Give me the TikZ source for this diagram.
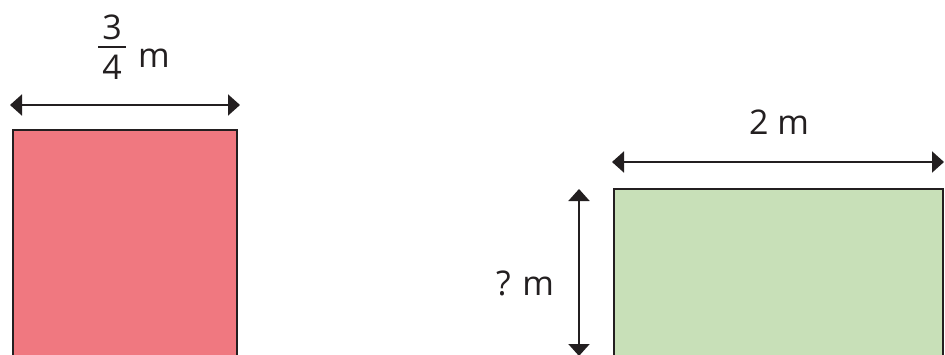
\documentclass[tikz,border=0pt]{standalone}
\usepackage{fontspec}
\setmainfont{Open Sans}
\usetikzlibrary{arrows.meta}
\definecolor{ink}{HTML}{231F20}
\definecolor{redfill}{HTML}{F07880}
\definecolor{greenfill}{HTML}{C8E0B8}

\begin{document}
\begin{tikzpicture}[x=1pt, y=1pt,
    dimline/.style={ink, line width=2pt, {Triangle[length=12pt, width=21pt]}-{Triangle[length=12pt, width=21pt]}},
    box/.style={draw=ink, line width=2pt},
    lbl/.style={ink, inner sep=0pt, font=\fontsize{34}{40}\selectfont}]
    \clip (0, 0) rectangle (945, 354);
    % red rectangle, 3/4 m wide
    \fill[redfill, box] (13, 224) rectangle (237, -10);
    \coordinate (redL) at (10, 249);
    \coordinate (redR) at (240, 249);
    \draw[dimline] (redL) -- (redR);
    \node[lbl] (num) at (112, 327) {3};
    \node[lbl] (den) at (112, 287) {4};
    \coordinate (barL) at (98, 307);
    \coordinate (barR) at (126, 307);
    \draw[ink, line width=2pt] (barL) -- (barR);
    \node[lbl, anchor=base west] (redunit) at (138, 286) {m};
    % green rectangle, 2 m wide
    \fill[greenfill, box] (614, 165) rectangle (943, -10);
    \coordinate (greenL) at (612, 192);
    \coordinate (greenR) at (944, 192);
    \draw[dimline] (greenL) -- (greenR);
    \node[lbl, anchor=base] (width) at (779, 219) {2 m};
    \coordinate (hgtT) at (579, 165);
    \coordinate (hgtB) at (579, -2);
    \draw[dimline] (hgtT) -- (hgtB);
    \node[lbl, anchor=base] (height) at (525, 59) {? m};
\end{tikzpicture}
\end{document}
